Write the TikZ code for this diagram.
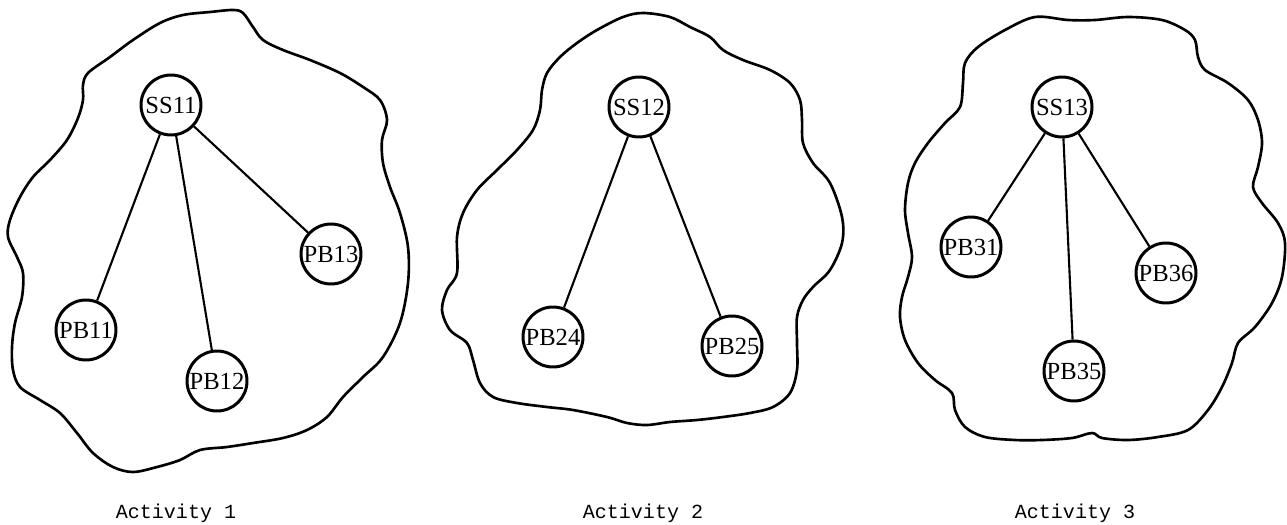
\documentclass[tikz,border=0pt]{standalone}
\usepackage{fontspec}
\setmainfont{Liberation Serif}
\setmonofont{Liberation Mono}
\usepackage{tikz}
\usetikzlibrary{positioning,calc}

\tikzset{
  proc/.style={draw, circle, line width=1.7pt, minimum size=1.2cm, inner sep=0pt,
    font=\fontsize{14}{15}\selectfont},
  link/.style={line width=1.2pt},
  region/.style={line width=1.5pt, smooth cycle, tension=0.55},
  actlabel/.style={font=\fontsize{11.4}{14}\ttfamily}
}

\begin{document}
\begin{tikzpicture}[x=0.02cm, y=-0.02cm]
    \useasboundingbox (0,0) rectangle (1287,524);

    % Activity 1
    \draw [region] plot coordinates {(233,10) (210,12) (183,15) (160,23) (133,40) (110,57) (88,73) (83,85) (83,100) (78,118) (67,140) (50,160) (33,177) (20,197) (10,220) (8,237) (17,257) (23,273) (22,297) (15,323) (12,347) (13,370) (20,387) (40,400) (60,413) (77,433) (93,453) (113,467) (133,472) (157,467) (180,460) (200,450) (227,447) (253,443) (283,438) (307,430) (327,417) (343,397) (363,377) (383,357) (400,323) (408,283) (408,247) (400,213) (390,187) (383,163) (382,140) (387,120) (380,100) (363,87) (340,73) (310,60) (283,50) (263,40) (253,27) (243,13)};
    \node [proc] (ss11) at (171,105) {SS11};
    \node [proc] (pb11) at (86,330) {PB11};
    \node [proc] (pb12) at (217,381) {PB12};
    \node [proc] (pb13) at (331,254) {PB13};
    \draw [link] (ss11) -- (pb11);
    \draw [link] (ss11) -- (pb12);
    \draw [link] (ss11) -- (pb13);
    \node [actlabel] (act1) at (176,513) {Activity 1};

    % Activity 2
    \draw [region] plot coordinates {(643,13) (623,17) (597,30) (577,43) (560,57) (547,73) (542,90) (540,110) (533,130) (517,150) (497,170) (477,190) (463,213) (457,237) (457,273) (447,290) (442,310) (450,330) (467,343) (473,360) (480,383) (493,397) (517,403) (547,407) (573,410) (607,417) (627,423) (647,425) (670,422) (697,420) (723,417) (750,413) (773,407) (790,393) (797,370) (797,343) (797,317) (803,300) (813,287) (830,270) (842,243) (842,217) (830,183) (813,163) (803,143) (802,120) (800,100) (790,83) (770,70) (743,60) (723,50) (710,37) (690,27) (670,17)};
    \node [proc] (ss12) at (639,107) {SS12};
    \node [proc] (pb24) at (553,337) {PB24};
    \node [proc] (pb25) at (732,346) {PB25};
    \draw [link] (ss12) -- (pb24);
    \draw [link] (ss12) -- (pb25);
    \node [actlabel] (act2) at (643,513) {Activity 2};

    % Activity 3
    \draw [region] plot coordinates {(1035,17) (1005,30) (978,47) (965,63) (963,83) (960,107) (945,123) (928,143) (915,163) (908,183) (905,210) (908,233) (912,257) (908,277) (902,297) (900,317) (905,340) (918,363) (935,380) (952,393) (955,410) (965,427) (985,437) (1015,440) (1042,440) (1072,438) (1092,433) (1102,438) (1128,440) (1158,437) (1188,430) (1208,410) (1222,387) (1232,363) (1238,343) (1255,327) (1272,303) (1282,277) (1285,243) (1278,223) (1262,203) (1253,187) (1258,167) (1262,143) (1258,120) (1248,100) (1228,83) (1205,70) (1198,57) (1195,40) (1185,30) (1162,20) (1128,17) (1095,20) (1068,20)};
    \node [proc] (ss13) at (1062,107) {SS13};
    \node [proc] (pb31) at (971,247) {PB31};
    \node [proc] (pb35) at (1074,371) {PB35};
    \node [proc] (pb36) at (1166,273) {PB36};
    \draw [link] (ss13) -- (pb31);
    \draw [link] (ss13) -- (pb35);
    \draw [link] (ss13) -- (pb36);
    \node [actlabel] (act3) at (1075,513) {Activity 3};

\end{tikzpicture}
\end{document}
